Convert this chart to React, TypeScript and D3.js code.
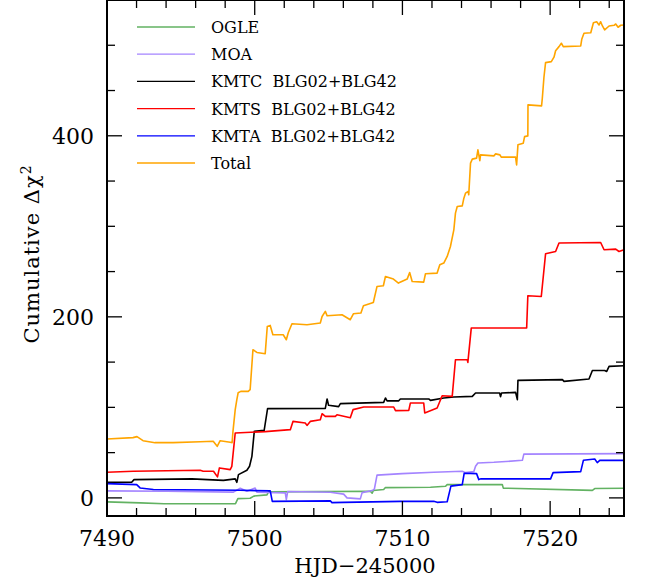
import React from 'react';
import * as d3 from 'd3';

type P = [number, number];

const xMajorTicks = [7490, 7500, 7510, 7520];
const yMajorTicks = [0, 200, 400];
const seriesNames = ['OGLE', 'MOA', 'KMTC BLG02+BLG42', 'KMTS BLG02+BLG42', 'KMTA BLG02+BLG42', 'Total'];
const seriesColors = ['#62b262', '#a484ff', '#000000', '#ff0000', '#0000ff', '#ffa500'];

const ogle: P[] = [
  [7490.0, -4.4], [7492.26, -5.5], [7493.86, -6.5], [7498.7, -6.3], [7498.86, -0.8], [7499.69, -0.4],
  [7499.94, 2.0], [7500.83, 3.3], [7500.93, 6.6], [7507.83, 7.3], [7507.95, 5.3], [7508.03, 8.1],
  [7508.73, 9.2], [7508.85, 11.4], [7511.9, 11.7], [7512.92, 12.8], [7513.03, 14.7], [7516.76, 14.7],
  [7516.83, 10.8], [7522.86, 8.3], [7523.02, 10.3], [7525.0, 10.6],
];

const moa: P[] = [
  [7490.0, 7.8], [7494.05, 7.3], [7498.56, 6.4], [7499.02, 10.6], [7499.47, 7.3], [7500.03, 10.8],
  [7500.15, 6.2], [7502.07, 5.5], [7502.14, -1.9], [7502.23, 7.0], [7505.12, 6.2], [7506.02, 4.2],
  [7506.25, 0.0], [7507.15, -1.1], [7507.27, 5.8], [7507.95, 8.1], [7508.1, 9.7], [7508.28, 25.2],
  [7509.98, 26.8], [7512.12, 28.3], [7514.05, 29.4], [7514.27, 27.9], [7514.83, 29.0], [7514.95, 34.9],
  [7515.11, 38.6], [7516.19, 39.3], [7518.12, 41.5], [7518.22, 48.3], [7525.0, 48.9],
];

const kmtc: P[] = [
  [7490.0, 17.2], [7491.67, 17.2], [7491.83, 20.2], [7495.74, 21.0], [7497.88, 19.4], [7498.68, 21.0],
  [7498.79, 17.2], [7498.9, 25.7], [7499.47, 30.5], [7499.65, 34.9], [7499.81, 45.9], [7499.97, 73.5],
  [7500.64, 74.6], [7500.87, 98.6], [7504.78, 98.8], [7504.9, 109.3], [7505.0, 102.4], [7505.68, 100.8],
  [7505.8, 104.1], [7508.73, 105.5], [7508.85, 110.4], [7508.96, 107.2], [7509.75, 107.2], [7509.86, 109.3],
  [7511.78, 109.3], [7511.9, 107.7], [7512.8, 110.4], [7513.48, 111.5], [7514.73, 112.1], [7514.95, 115.9],
  [7516.58, 115.9], [7516.64, 111.8], [7516.71, 115.9], [7517.66, 116.6], [7517.78, 108.5], [7517.82, 129.8],
  [7520.83, 130.6], [7520.94, 128.7], [7522.63, 131.3], [7522.86, 140.8], [7523.69, 140.8], [7523.83, 139.7],
  [7523.99, 145.3], [7525.0, 146.0],
];

const kmts: P[] = [
  [7490.0, 28.3], [7491.78, 29.4], [7496.31, 30.5], [7496.51, 29.4], [7497.21, 29.4], [7497.48, 23.2],
  [7497.61, 33.1], [7498.34, 31.2], [7498.45, 34.9], [7498.68, 71.7], [7500.71, 73.2], [7502.41, 75.4],
  [7502.59, 84.5], [7503.42, 82.8], [7503.54, 80.1], [7503.76, 84.5], [7504.44, 86.4], [7504.56, 93.0],
  [7504.78, 90.1], [7505.46, 90.1], [7505.57, 91.9], [7506.47, 88.6], [7506.66, 97.5], [7507.38, 100.4],
  [7509.41, 100.4], [7509.53, 96.4], [7510.43, 96.7], [7510.54, 104.9], [7511.44, 104.9], [7511.51, 93.8],
  [7512.35, 99.3], [7512.69, 112.9], [7513.37, 112.1], [7513.59, 152.6], [7514.39, 152.6], [7514.43, 149.7],
  [7514.66, 187.6], [7518.41, 187.6], [7518.49, 223.3], [7519.4, 222.5], [7519.69, 269.6], [7520.37, 272.2],
  [7520.6, 281.5], [7523.42, 282.1], [7523.65, 274.1], [7524.44, 274.8], [7524.66, 272.2], [7525.0, 274.1],
];

const kmta: P[] = [
  [7490.0, 15.8], [7492.01, 14.7], [7492.24, 11.0], [7493.14, 9.2], [7499.02, 8.4], [7501.05, 7.7],
  [7501.19, -3.8], [7505.12, -3.3], [7505.23, -5.2], [7506.02, -4.9], [7509.86, -3.8], [7512.12, -3.8],
  [7512.35, -4.9], [7513.03, -4.3], [7513.28, 13.0], [7514.05, 14.7], [7514.18, 27.2], [7515.02, 26.8],
  [7515.17, 20.2], [7515.29, 21.0], [7520.03, 21.0], [7520.2, 27.9], [7522.07, 29.0], [7522.25, 41.5],
  [7523.02, 43.0], [7523.19, 39.0], [7523.36, 41.5], [7525.0, 41.5],
];

const total: P[] = [
  [7490.0, 65.1], [7491.76, 66.6], [7492.03, 67.7], [7492.44, 63.2], [7493.25, 61.0], [7494.47, 61.0],
  [7496.31, 62.1], [7497.19, 62.5], [7497.46, 57.0], [7497.66, 63.2], [7498.34, 61.4], [7498.47, 61.0],
  [7498.52, 72.1], [7498.68, 97.5], [7498.79, 108.5], [7498.88, 116.2], [7499.06, 117.7], [7499.56, 117.7],
  [7499.69, 119.5], [7499.88, 163.7], [7500.15, 160.7], [7500.71, 159.3], [7500.85, 189.4], [7501.05, 190.5],
  [7501.23, 180.2], [7501.93, 180.2], [7502.14, 174.7], [7502.27, 182.5], [7502.52, 192.4], [7503.54, 191.3],
  [7504.44, 193.2], [7504.56, 200.4], [7504.78, 206.0], [7504.9, 201.2], [7505.91, 202.3], [7506.47, 196.8],
  [7506.68, 203.4], [7507.19, 204.2], [7507.36, 212.3], [7508.03, 215.9], [7508.28, 233.6], [7508.71, 234.3],
  [7508.85, 244.6], [7509.39, 241.7], [7509.73, 237.3], [7510.32, 241.7], [7510.49, 249.0], [7510.66, 239.1],
  [7511.44, 238.4], [7511.56, 247.6], [7512.35, 248.3], [7512.53, 257.5], [7512.8, 259.4], [7513.03, 266.7],
  [7513.25, 277.7], [7513.48, 296.1], [7513.59, 314.6], [7513.71, 321.9], [7514.05, 322.6], [7514.16, 331.1],
  [7514.27, 336.6], [7514.45, 338.4], [7514.49, 334.8], [7514.61, 369.8], [7514.73, 374.2], [7515.02, 375.3],
  [7515.11, 384.4], [7515.24, 372.6], [7515.29, 378.9], [7516.19, 377.8], [7516.31, 380.0], [7516.6, 378.9],
  [7516.69, 376.4], [7517.66, 376.4], [7517.73, 367.9], [7517.82, 390.0], [7518.18, 391.8], [7518.27, 399.1],
  [7518.49, 399.9], [7518.5, 434.1], [7519.42, 433.0], [7519.47, 441.5], [7519.58, 464.7], [7519.69, 480.8],
  [7520.08, 481.9], [7520.26, 486.8], [7520.37, 494.0], [7520.6, 498.5], [7520.76, 502.2], [7520.89, 498.5],
  [7522.07, 499.2], [7522.14, 506.6], [7522.29, 513.2], [7522.75, 513.9], [7522.93, 524.9], [7523.15, 526.0],
  [7523.31, 522.4], [7523.42, 526.0], [7523.54, 521.3], [7523.69, 516.9], [7523.99, 521.3], [7524.33, 522.1],
  [7524.44, 523.5], [7524.6, 519.9], [7524.78, 522.1], [7525.0, 522.4],
];

const allSeries = [ogle, moa, kmtc, kmts, kmta, total];

const W = 649;
const H = 581;
const left = 107;
const right = 624;
const top = 0;
const bottom = 516;

export default function App() {
  const x = d3.scaleLinear().domain([7490, 7525]).range([left, right]);
  const y = d3.scaleLinear().domain([-20, 550]).range([bottom, top]);
  const line = d3.line<P>().x(d => x(d[0])).y(d => y(d[1]));

  const xMinor = d3.range(7490, 7525.001, 2).filter(v => !xMajorTicks.includes(v));
  const yMinor = d3.range(0, 550.001, 50).filter(v => !yMajorTicks.includes(v));
  const font = "'DejaVu Serif', serif";
  const majLen = 15;
  const minLen = 8;

  return (
    <svg width={W} height={H} style={{ position: 'absolute', left: 0, top: 0, background: '#fff' }}>
      <rect x={0} y={0} width={W} height={H} fill="#fff" />
      <g>
        {allSeries.map((s, i) => (
          <path key={i} d={line(s) || ''} fill="none" stroke={seriesColors[i]} strokeWidth={1.6} strokeLinejoin="round" />
        ))}
      </g>
      <g stroke="#000" strokeWidth={1.3}>
        {xMajorTicks.map(v => (
          <g key={'xm' + v}>
            <line x1={x(v)} x2={x(v)} y1={bottom} y2={bottom - majLen} />
            <line x1={x(v)} x2={x(v)} y1={top} y2={top + majLen} />
          </g>
        ))}
        {xMinor.map(v => (
          <g key={'xn' + v}>
            <line x1={x(v)} x2={x(v)} y1={bottom} y2={bottom - minLen} />
            <line x1={x(v)} x2={x(v)} y1={top} y2={top + minLen} />
          </g>
        ))}
        {yMajorTicks.map(v => (
          <g key={'ym' + v}>
            <line x1={left} x2={left + majLen} y1={y(v)} y2={y(v)} />
            <line x1={right} x2={right - majLen} y1={y(v)} y2={y(v)} />
          </g>
        ))}
        {yMinor.map(v => (
          <g key={'yn' + v}>
            <line x1={left} x2={left + minLen} y1={y(v)} y2={y(v)} />
            <line x1={right} x2={right - minLen} y1={y(v)} y2={y(v)} />
          </g>
        ))}
      </g>
      <rect x={left} y={top} width={right - left} height={bottom - top} fill="none" stroke="#000" strokeWidth={2} />
      <g fontFamily={font} fontSize={22} fill="#000">
        {xMajorTicks.map(v => (
          <text key={'xl' + v} x={x(v)} y={546} textAnchor="middle">{v}</text>
        ))}
        {yMajorTicks.map(v => (
          <text key={'yl' + v} x={94} y={y(v) + 8} textAnchor="end">{v}</text>
        ))}
      </g>
      <text x={365} y={573} textAnchor="middle" fontFamily={font} fontSize={21} fill="#000">HJD−245000</text>
      <text transform={`translate(39,254) rotate(-90)`} textAnchor="middle" fontFamily={font} fontSize={21} letterSpacing={1} fill="#000">
        Cumulative Δχ<tspan dy={-8} fontSize={14}>2</tspan>
      </text>
      <g fontFamily={font} fontSize={16} fill="#000">
        {seriesNames.map((n, i) => {
          const ly = 27 + i * 27.2;
          return (
            <g key={n}>
              <line x1={137} x2={195} y1={ly} y2={ly} stroke={seriesColors[i]} strokeWidth={1.3} />
              <text x={211} y={ly + 6} xmlSpace="preserve">{n.replace(' ', '  ')}</text>
            </g>
          );
        })}
      </g>
    </svg>
  );
}
